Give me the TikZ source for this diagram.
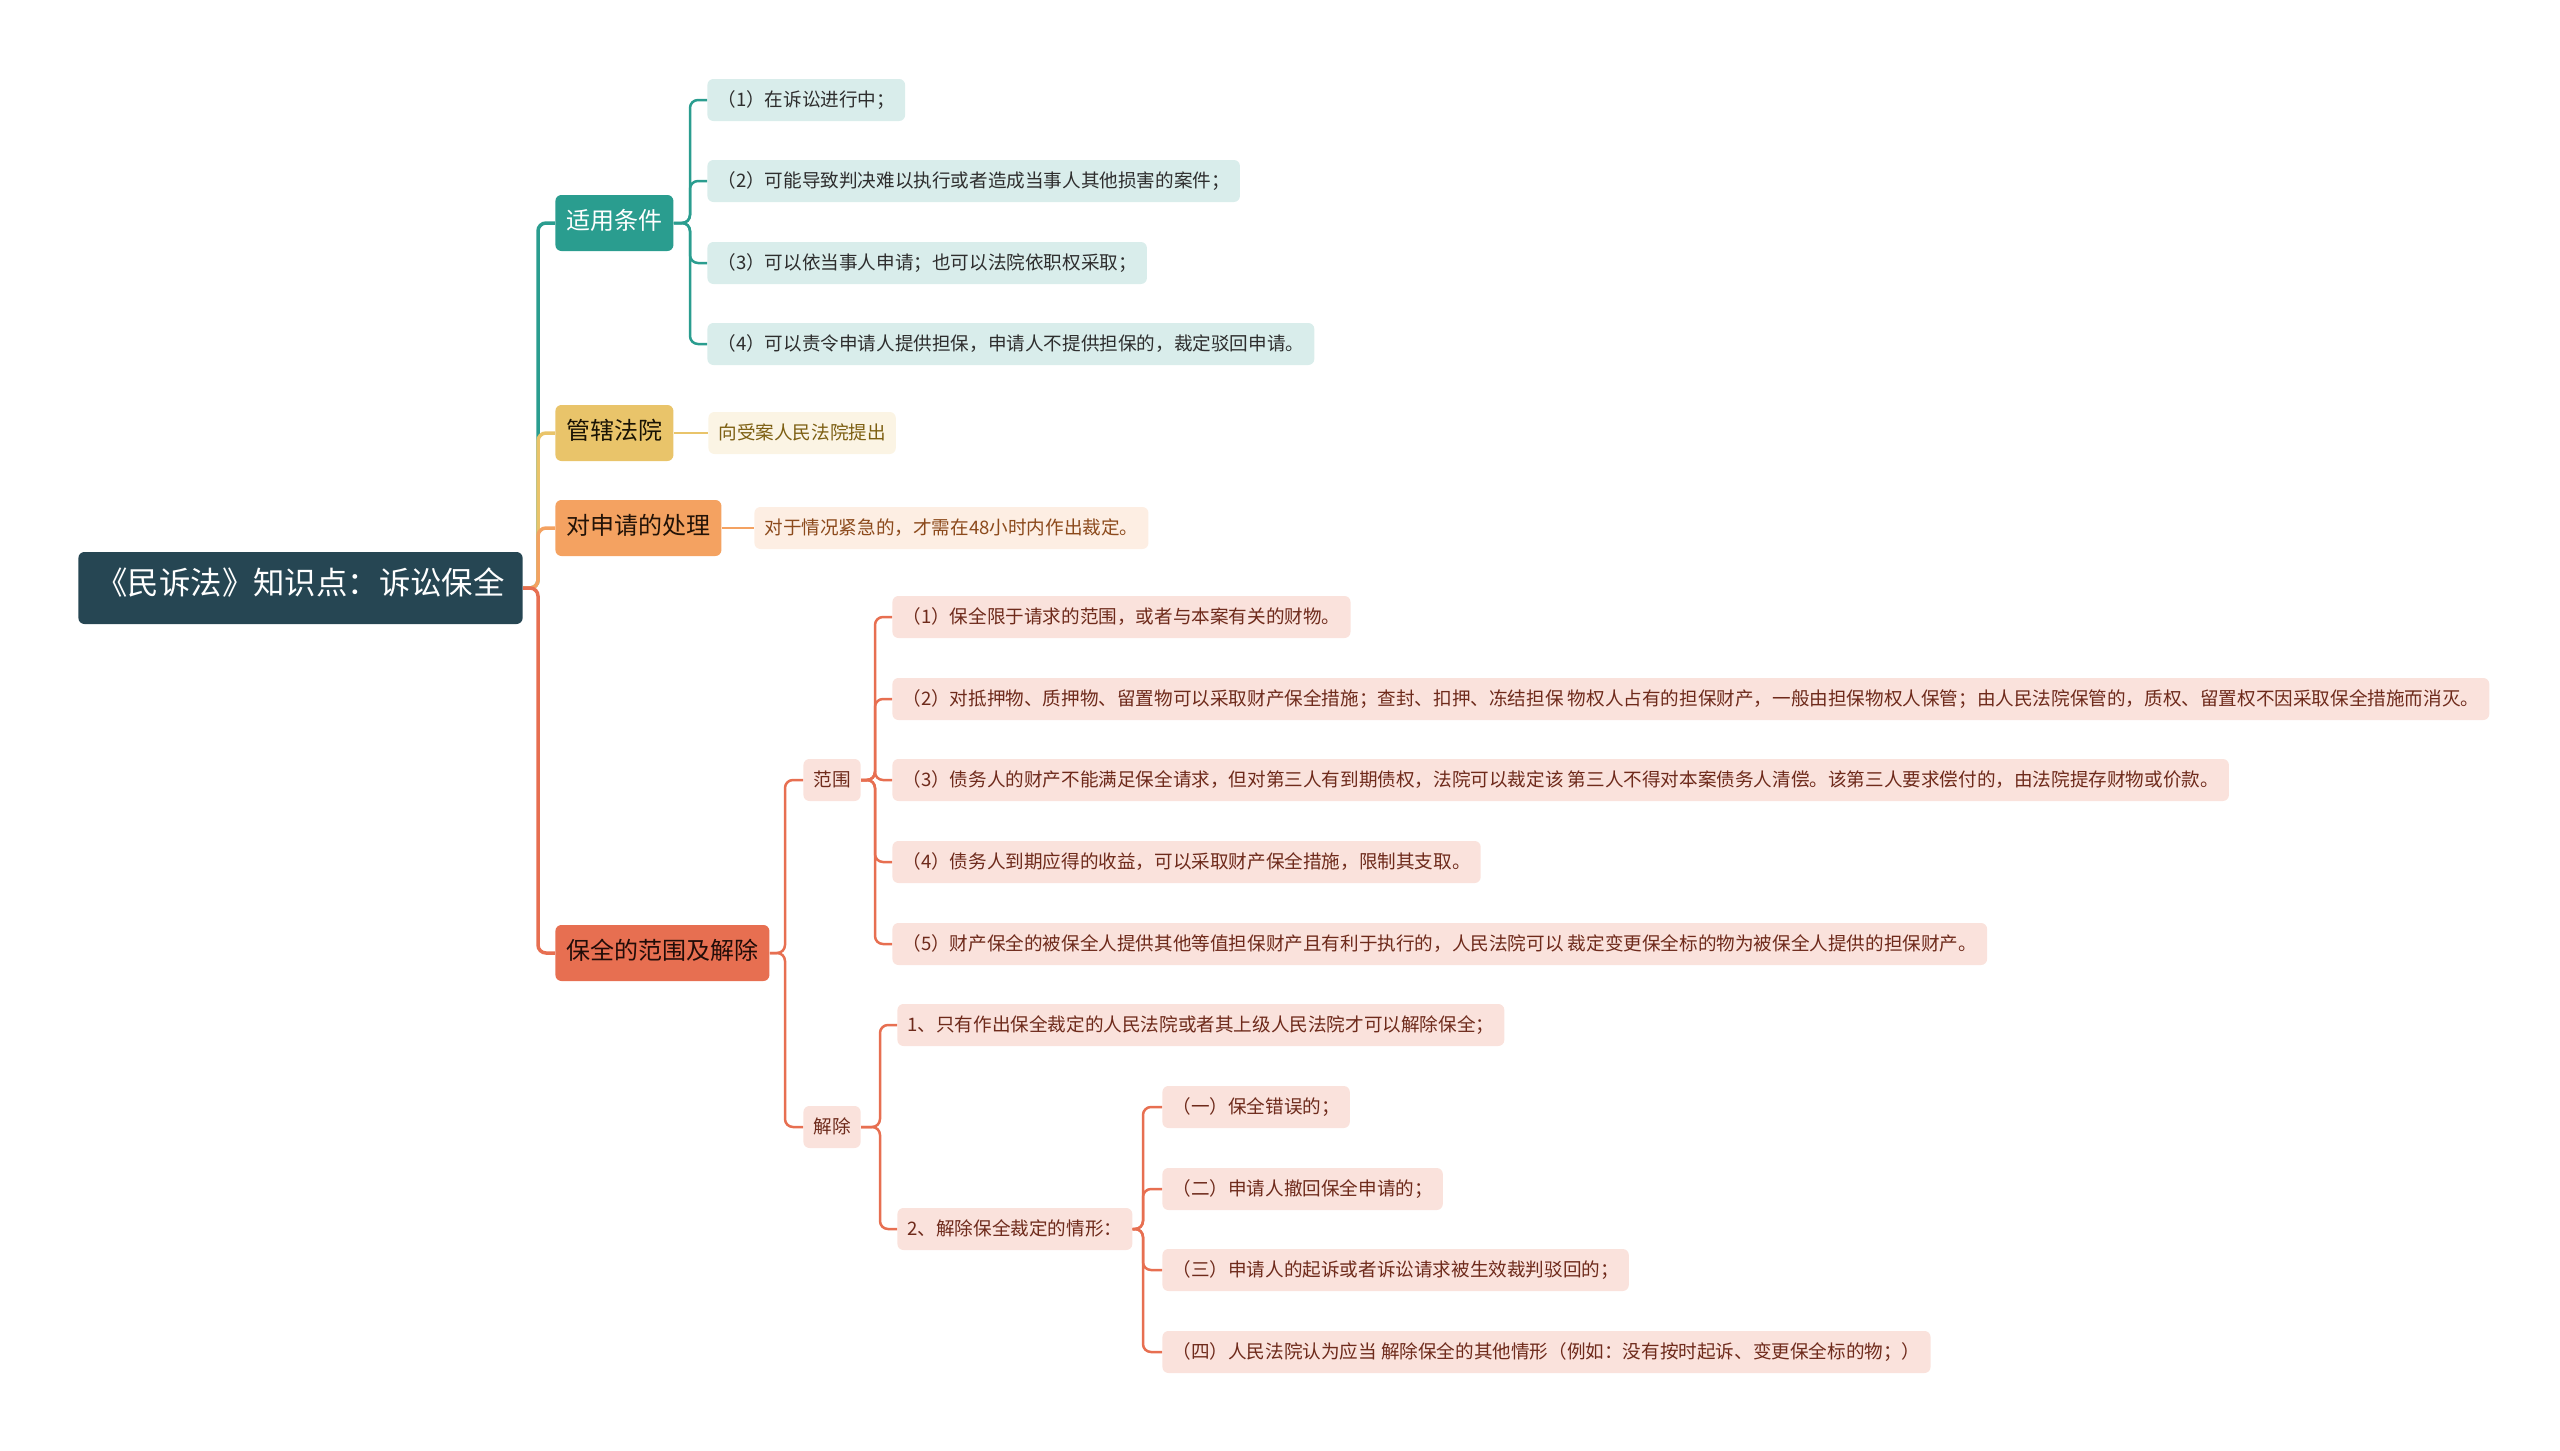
\documentclass[tikz,border=0pt]{standalone}
\usepackage{fontspec}
\setmainfont{Noto Sans CJK SC}
\definecolor{zhongxinSe}{HTML}{264653}
\definecolor{qingSe}{HTML}{2A9D8F}
\definecolor{huangSe}{HTML}{E9C46A}
\definecolor{chengSe}{HTML}{F4A261}
\definecolor{hongSe}{HTML}{E76F51}
\definecolor{qingWen}{HTML}{2E2E2E}
\definecolor{huangWen}{HTML}{7D5F12}
\definecolor{chengWen}{HTML}{8C4A1C}
\definecolor{hongWen}{HTML}{6E2A1B}

\begin{document}
\begin{tikzpicture}[x=0.5pt,y=-0.5pt,
  zhongxin/.style={fill=zhongxinSe,text=white,rounded corners=3pt,anchor=west,
    font=\fontsize{15.7}{18}\selectfont,inner xsep=9pt,inner ysep=0pt,
    minimum height=36pt,text height=0.8em,text depth=0.2em},
  zhuti/.style={fill=#1,rounded corners=3pt,anchor=west,
    font=\fontsize{12}{14}\selectfont,inner xsep=5.5pt,inner ysep=0pt,
    minimum height=28pt,text height=0.8em,text depth=0.2em},
  yezi/.style={rounded corners=3pt,anchor=west,
    font=\fontsize{9.3}{11}\selectfont,inner xsep=5pt,inner ysep=0pt,
    minimum height=21pt,text height=0.8em,text depth=0.2em},
  xianCu/.style={draw=#1,line width=1.75pt,rounded corners=4pt},
  xian/.style={draw=#1,line width=1.25pt,rounded corners=4pt}]
  \useasboundingbox (0,0) rectangle (2560,1451);
  % Centro e rami principali.
  \node[zhongxin] (gen) at (78,588) {《民诉法》知识点：诉讼保全};
  \coordinate (busGen) at (538,0);
  \node[zhuti=qingSe,text=white] (tiaojian) at (555,223) {适用条件};
  \node[zhuti=huangSe,text=black!80!huangWen] (fayuan) at (555,433) {管辖法院};
  \node[zhuti=chengSe,text=black!75!chengWen] (chuli) at (555,528) {对申请的处理};
  \node[zhuti=hongSe,text=black!70!hongWen] (baoquan) at (555,953) {保全的范围及解除};
  \draw[xianCu=qingSe] (gen.east) -- (gen.east -| busGen) |- (tiaojian.west);
  \draw[xianCu=huangSe] (gen.east) -- (gen.east -| busGen) |- (fayuan.west);
  \draw[xianCu=chengSe] (gen.east) -- (gen.east -| busGen) |- (chuli.west);
  \draw[xianCu=hongSe] (gen.east) -- (gen.east -| busGen) |- (baoquan.west);
  % Condizioni di applicazione.
  \coordinate (busTiaojian) at (690,0);
  \foreach \y/\testo [count=\i] in {
    100/{（1）在诉讼进行中；},
    181/{（2）可能导致判决难以执行或者造成当事人其他损害的案件；},
    263/{（3）可以依当事人申请；也可以法院依职权采取；},
    344/{（4）可以责令申请人提供担保，申请人不提供担保的，裁定驳回申请。}}{
    \node[yezi,fill=qingSe!18,text=qingWen] (tj\i) at (707,\y) {\testo};
    \draw[xian=qingSe] (tiaojian.east) -- (tiaojian.east -| busTiaojian) |- (tj\i.west);
  }
  \node[yezi,fill=huangSe!18,text=huangWen] (fy1) at (708,433) {向受案人民法院提出};
  \draw[xian=huangSe] (fayuan.east) -- (fy1.west);
  \node[yezi,fill=chengSe!18,text=chengWen] (cl1) at (754,528) {对于情况紧急的，才需在48小时内作出裁定。};
  \draw[xian=chengSe] (chuli.east) -- (cl1.west);
  % Ambito e revoca.
  \coordinate (busBaoquan) at (785,0);
  \node[yezi,fill=hongSe!20,text=hongWen] (fanwei) at (803,780) {范围};
  \node[yezi,fill=hongSe!20,text=hongWen] (jiechu) at (803,1127) {解除};
  \draw[xian=hongSe] (baoquan.east) -- (baoquan.east -| busBaoquan) |- (fanwei.west);
  \draw[xian=hongSe] (baoquan.east) -- (baoquan.east -| busBaoquan) |- (jiechu.west);
  \coordinate (busFanwei) at (875,0);
  \foreach \y/\testo [count=\i] in {
    617/{（1）保全限于请求的范围，或者与本案有关的财物。},
    699/{（2）对抵押物、质押物、留置物可以采取财产保全措施；查封、扣押、冻结担保 物权人占有的担保财产，一般由担保物权人保管；由人民法院保管的，质权、留置权不因采取保全措施而消灭。},
    780/{（3）债务人的财产不能满足保全请求，但对第三人有到期债权，法院可以裁定该 第三人不得对本案债务人清偿。该第三人要求偿付的，由法院提存财物或价款。},
    862/{（4）债务人到期应得的收益，可以采取财产保全措施，限制其支取。},
    944/{（5）财产保全的被保全人提供其他等值担保财产且有利于执行的，人民法院可以 裁定变更保全标的物为被保全人提供的担保财产。}}{
    \node[yezi,fill=hongSe!20,text=hongWen] (fw\i) at (892,\y) {\testo};
    \draw[xian=hongSe] (fanwei.east) -- (fanwei.east -| busFanwei) |- (fw\i.west);
  }
  \coordinate (busJiechu) at (880,0);
  \node[yezi,fill=hongSe!20,text=hongWen] (jc1) at (897,1025) {1、只有作出保全裁定的人民法院或者其上级人民法院才可以解除保全；};
  \node[yezi,fill=hongSe!20,text=hongWen] (jc2) at (897,1229) {2、解除保全裁定的情形：};
  \draw[xian=hongSe] (jiechu.east) -- (jiechu.east -| busJiechu) |- (jc1.west);
  \draw[xian=hongSe] (jiechu.east) -- (jiechu.east -| busJiechu) |- (jc2.west);
  \coordinate (busQingxing) at (1143,0);
  \foreach \y/\testo [count=\i] in {
    1107/{（一）保全错误的；},
    1189/{（二）申请人撤回保全申请的；},
    1270/{（三）申请人的起诉或者诉讼请求被生效裁判驳回的；},
    1352/{（四）人民法院认为应当 解除保全的其他情形（例如：没有按时起诉、变更保全标的物；）}}{
    \node[yezi,fill=hongSe!20,text=hongWen] (qx\i) at (1162,\y) {\testo};
    \draw[xian=hongSe] (jc2.east) -- (jc2.east -| busQingxing) |- (qx\i.west);
  }
\end{tikzpicture}
\end{document}
